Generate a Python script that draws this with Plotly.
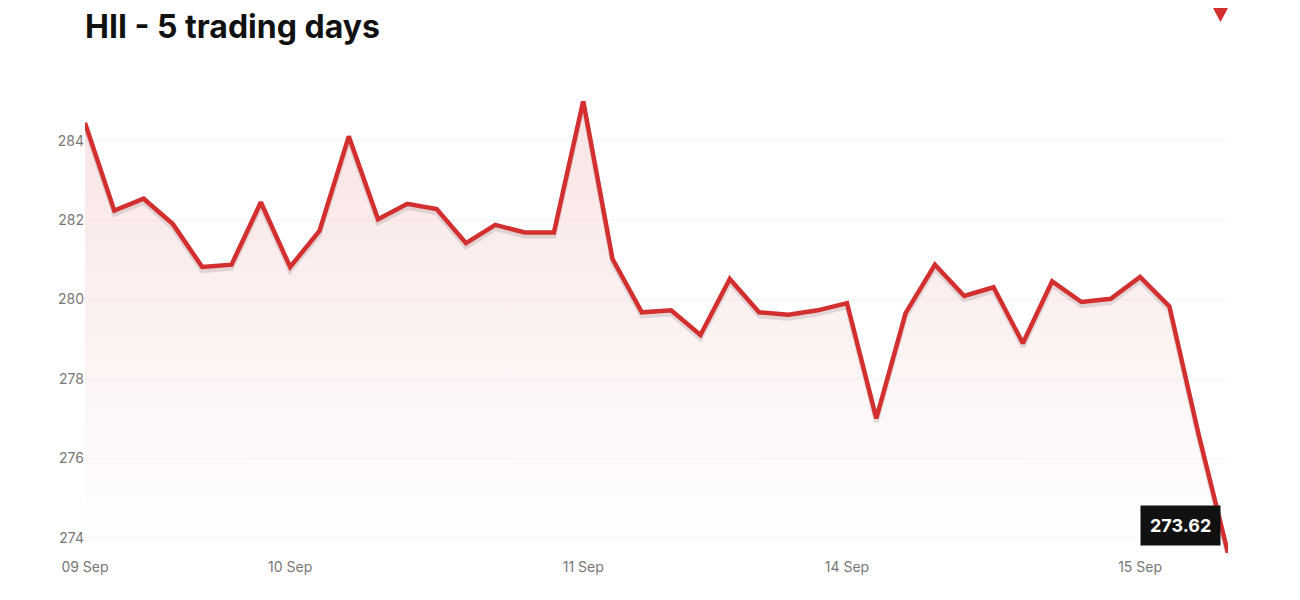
import plotly.graph_objects as go

# HII intraday closes over 5 trading days
prices = [
    284.45, 282.24, 282.54, 281.90, 280.82, 280.88, 282.45,
    280.82, 281.73, 284.11, 282.02, 282.41, 282.28, 281.42, 281.88, 281.69, 281.69,
    285.00, 281.02, 279.68, 279.73, 279.11, 280.52, 279.68, 279.62, 279.73,
    279.91, 277.01, 279.66, 280.88, 280.09, 280.31, 278.90, 280.46, 279.94, 280.02,
    280.57, 279.83, 276.60, 273.62,
]
day_ticks = [0, 7, 17, 26, 36]
day_labels = ["09 Sep", "10 Sep", "11 Sep", "14 Sep", "15 Sep"]
y_ticks = [274, 276, 278, 280, 282, 284]

RED = "#d32f2f"
idx = list(range(len(prices)))
last = prices[-1]

# page body has an 8px margin, so the figure is drawn 8px in from the corner
W, H = 1292, 592
L, R, T, B = 77, 72, 93, 47
plot_w, plot_h = W - L - R, H - T - B


def px_x(px):
    return (px - L) / plot_w


def px_y(py):
    return 1 + (T - py) / plot_h


fig = go.Figure()

# area under the line, fading to white
fig.add_trace(go.Scatter(
    x=idx, y=prices, mode="lines", fill="tozeroy",
    line=dict(width=0, color="rgba(0,0,0,0)"),
    fillgradient=dict(
        type="vertical", start=min(prices), stop=max(prices),
        colorscale=[[0, "rgba(211,47,47,0.0)"], [1, "rgba(211,47,47,0.13)"]],
    ),
    hoverinfo="skip", showlegend=False,
))

# soft shadow under the line
fig.add_trace(go.Scatter(
    x=idx, y=[p - 0.09 for p in prices], mode="lines",
    line=dict(width=5, color="rgba(80,60,60,0.15)"),
    hoverinfo="skip", showlegend=False,
))

fig.add_trace(go.Scatter(
    x=idx, y=prices, mode="lines",
    line=dict(width=4.5, color=RED),
    showlegend=False,
))

fig.add_annotation(
    x=idx[-1], y=last, xref="x", yref="y",
    text="<b>%.2f</b>" % last, showarrow=False,
    xanchor="right", yanchor="bottom", xshift=-7, yshift=7,
    bgcolor="#111111", borderpad=9,
    font=dict(family="Inter", size=18, color="white"),
)

# down marker in the top-right corner
fig.add_shape(
    type="path", xref="paper", yref="paper",
    path="M %f,%f L %f,%f L %f,%f Z" % (
        px_x(1205), px_y(0), px_x(1220), px_y(0), px_x(1212.5), px_y(14)),
    fillcolor=RED, line=dict(width=0), layer="above",
)

fig.update_layout(
    width=W, height=H,
    paper_bgcolor="white", plot_bgcolor="white",
    margin=dict(l=L, r=R, t=T, b=B),
    title=dict(
        text="<b>HII - 5 trading days</b>", x=L / W, xanchor="left",
        y=1 - 19 / H, yanchor="middle",
        font=dict(family="Inter", size=32, color="#111111"),
    ),
    font=dict(family="Inter", color="#777777"),
    xaxis=dict(
        range=[0, len(prices) - 1], tickvals=day_ticks, ticktext=day_labels,
        showgrid=False, zeroline=False, showline=False, ticks="",
        ticklabelstandoff=4,
        tickfont=dict(size=14, color="#777777"),
    ),
    yaxis=dict(
        range=[min(prices), max(prices)], tickvals=y_ticks,
        showgrid=True, gridcolor="#dedede", griddash="1px,3px", gridwidth=1,
        zeroline=False, showline=False, ticks="",
        tickfont=dict(size=14, color="#777777"),
    ),
)

fig.write_html("out.html")
